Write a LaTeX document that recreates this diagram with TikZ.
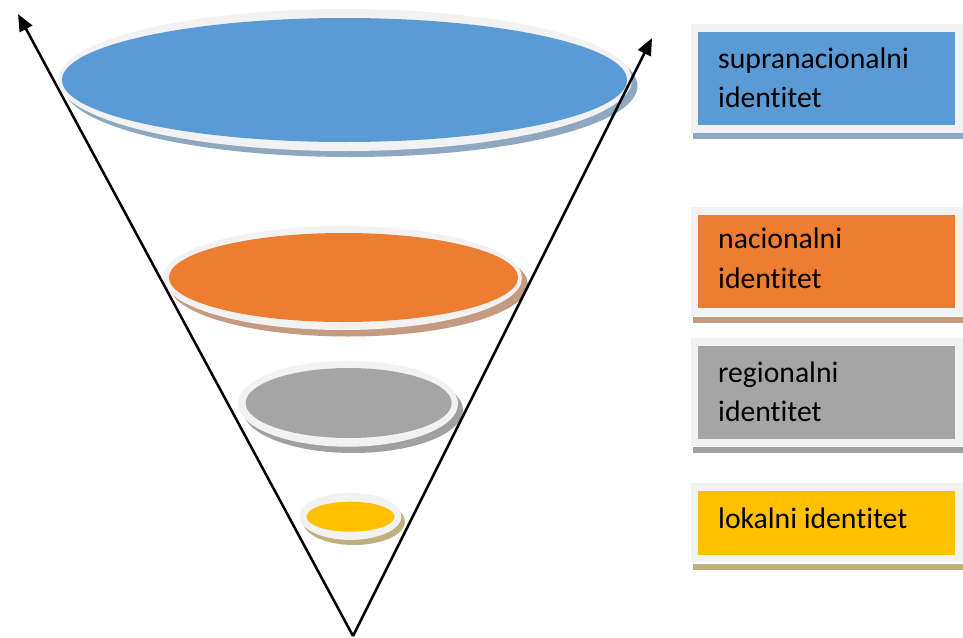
\documentclass[tikz,border=0pt]{standalone}
\usepackage{fontspec}
\setmainfont{Carlito}[Ligatures={NoCommon,NoContextual}]
\usetikzlibrary{shapes.geometric,arrows.meta}
\definecolor{rim}{RGB}{242,242,242}
\definecolor{cblue}{RGB}{91,155,213}
\definecolor{corange}{RGB}{237,125,49}
\definecolor{cgray}{RGB}{165,165,165}
\definecolor{cyellow}{RGB}{255,192,0}
\definecolor{sblue}{RGB}{143,168,194}
\definecolor{sorange}{RGB}{196,155,128}
\definecolor{sgray}{RGB}{160,160,160}
\definecolor{syellow}{RGB}{191,176,128}
\tikzset{
  disc/.style={ellipse, inner sep=0pt, outer sep=0pt},
  outerbox/.style={rectangle, fill=rim, inner sep=0pt, outer sep=0pt, anchor=north west},
  innerbox/.style={rectangle, inner sep=0pt, outer sep=0pt, anchor=north west},
  shadowbar/.style={rectangle, inner sep=0pt, outer sep=0pt, anchor=north west},
  lbl/.style={anchor=base west, inner sep=0pt, align=left, font=\fontsize{29.7}{39.4}\selectfont},
  axis/.style={line width=2.5pt, -{Triangle[length=17pt,width=14pt]}}
}
\begin{document}
\begin{tikzpicture}[x=1pt,y=-1pt]
\useasboundingbox (0,0) rectangle (963,637);
% blue
\node[disc, fill=sblue, minimum width=574pt, minimum height=142pt] (bS) at (350.5,86) {};
\node[disc, fill=rim, minimum width=574pt, minimum height=142pt] (bR) at (345,80) {};
\node[disc, fill=cblue, minimum width=565pt, minimum height=124pt] (bF) at (344.5,80) {};
% orange
\node[disc, fill=sorange, minimum width=359pt, minimum height=104pt] (oS) at (348.5,284.5) {};
\node[disc, fill=rim, minimum width=359pt, minimum height=104pt] (oR) at (342.5,278) {};
\node[disc, fill=corange, minimum width=349pt, minimum height=89pt] (oF) at (343.5,277.5) {};
% gray
\node[disc, fill=sgray, minimum width=220pt, minimum height=86pt] (gS) at (353,410) {};
\node[disc, fill=rim, minimum width=220pt, minimum height=86pt] (gR) at (348,403.7) {};
\node[disc, fill=cgray, minimum width=206pt, minimum height=70pt] (gF) at (348.7,403) {};
% yellow
\node[disc, fill=syellow, minimum width=102pt, minimum height=47pt] (yS) at (354,521.5) {};
\node[disc, fill=rim, minimum width=102pt, minimum height=47pt] (yR) at (350.5,516.4) {};
\node[disc, fill=cyellow, minimum width=88pt, minimum height=30pt] (yF) at (350.5,516.7) {};
% axes
\coordinate (apex) at (353,636);
\coordinate (ltip) at (18,14);
\coordinate (rtip) at (652,38);
\draw[axis] (apex) -- (ltip);
\draw[axis] (apex) -- (rtip);
% legend boxes
\node[shadowbar, fill=sblue, minimum width=271pt, minimum height=6pt] (s1) at (693,133.3) {};
\node[outerbox, minimum width=273pt, minimum height=109pt] (o1) at (690.7,24) {};
\node[innerbox, fill=cblue, minimum width=257pt, minimum height=93.3pt] (i1) at (698.3,31.7) {};
\node[lbl] (t1) at (718,107.7) {supranacionalni\\identitet};

\node[shadowbar, fill=sorange, minimum width=271pt, minimum height=6pt] (s2) at (693,316.5) {};
\node[outerbox, minimum width=273pt, minimum height=109.3pt] (o2) at (690.7,206.7) {};
\node[innerbox, fill=corange, minimum width=257pt, minimum height=93.3pt] (i2) at (698.3,215) {};
\node[lbl] (t2) at (718,288.3) {nacionalni\\identitet};

\node[shadowbar, fill=sgray, minimum width=271pt, minimum height=6pt] (s3) at (693,447.3) {};
\node[outerbox, minimum width=273pt, minimum height=107.7pt] (o3) at (690.7,338.3) {};
\node[innerbox, fill=cgray, minimum width=257pt, minimum height=93.3pt] (i3) at (698.3,345.7) {};
\node[lbl] (t3) at (718,421.7) {regionalni\\identitet};

\node[shadowbar, fill=syellow, minimum width=271pt, minimum height=5.5pt] (s4) at (693,564) {};
\node[outerbox, minimum width=273pt, minimum height=79pt] (o4) at (690.7,483.3) {};
\node[innerbox, fill=cyellow, minimum width=257pt, minimum height=64pt] (i4) at (698.3,491) {};
\node[lbl] (t4) at (718,528.3) {lokalni identitet};
\end{tikzpicture}
\end{document}
